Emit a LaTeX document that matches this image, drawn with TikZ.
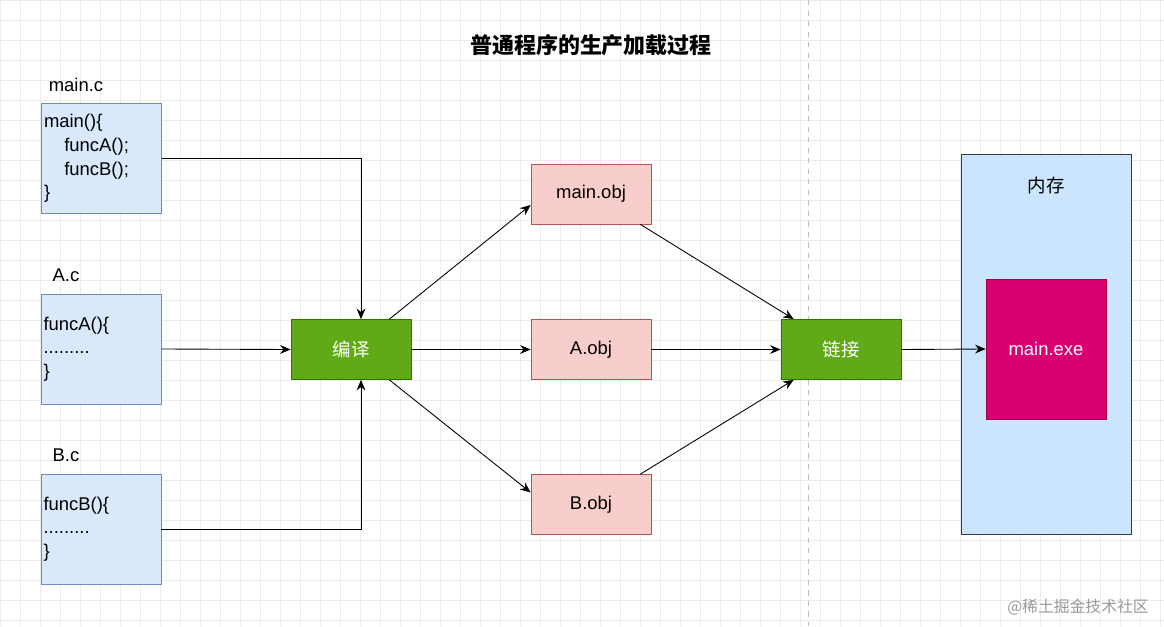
\documentclass[tikz,border=0pt]{standalone}
\usepackage{fontspec}
\setmainfont{Liberation Sans}
\newfontfamily\cjk{Noto Sans CJK SC}
\usetikzlibrary{arrows.meta}
\definecolor{bfill}{HTML}{DAE8FC}\definecolor{bline}{HTML}{6C8EBF}
\definecolor{gfill}{HTML}{60A917}\definecolor{gline}{HTML}{2D7600}
\definecolor{rfill}{HTML}{F8CECC}\definecolor{rline}{HTML}{B85450}
\definecolor{mfill}{HTML}{CCE5FF}\definecolor{mline}{HTML}{36393D}
\definecolor{pfill}{HTML}{D80073}\definecolor{pline}{HTML}{A50040}
\begin{document}
\begin{tikzpicture}[x=0.02cm,y=-0.02cm,
 src/.style={draw=bline,fill=bfill,minimum width=2.4cm,minimum height=2.2cm,inner sep=1pt,font=\fontsize{10.5}{13.5}\selectfont,align=left},
 proc/.style={draw=gline,fill=gfill,minimum width=2.4cm,minimum height=1.2cm,text=white,font=\cjk\fontsize{10.5}{12}\selectfont},
 obj/.style={draw=rline,fill=rfill,minimum width=2.4cm,minimum height=1.2cm,font=\fontsize{10.5}{12}\selectfont},
 lbl/.style={font=\fontsize{10.5}{12}\selectfont},
 arr/.style={-{Stealth[length=6pt,width=5pt]},line width=0.5pt}]
\path[use as bounding box] (0,0) rectangle (1164,626);
\foreach \i in {0,20,...,1160} \draw[black!8,line width=0.4pt] (\i,0) -- (\i,626);
\foreach \j in {0,20,...,620} \draw[black!8,line width=0.4pt] (0,\j) -- (1164,\j);
\draw[black!25,dashed] (808,0) -- (808,626);
\node[font=\cjk\bfseries\fontsize{12.5}{14}\selectfont] (title) at (591,45) {普通程序的生产加载过程};
\node[lbl] (lmain) at (76,85) {main.c};
\node[lbl] (la) at (66,275) {A.c};
\node[lbl] (lb) at (66,455) {B.c};
\node[src,text width=2.3cm] (mainc) at (101.5,158.5) {main()\{\\\hspace*{1.1em}funcA();\\\hspace*{1.1em}funcB();\\\}};
\node[src,text width=2.3cm] (ac) at (101,349) {funcA()\{\\.........\\\}};
\node[src,text width=2.3cm] (bc) at (101,529) {funcB()\{\\.........\\\}};
\node[proc] (cc) at (351,349.5) {编译};
\node[proc] (ld) at (841,349.5) {链接};
\node[obj] (mo) at (591,194) {main.obj};
\node[obj] (ao) at (591,349.5) {A.obj};
\node[obj] (bo) at (591,504.5) {B.obj};
\node[draw=mline,fill=mfill,minimum width=3.4cm,minimum height=7.6cm] (mem) at (1046,344) {};
\node[font=\cjk\fontsize{10.5}{12}\selectfont] (memt) at (1046,186) {内存};
\node[draw=pline,fill=pfill,minimum width=2.4cm,minimum height=2.8cm,text=white,font=\fontsize{10.5}{12}\selectfont] (exe) at (1046,349) {main.exe};
\coordinate (ctop) at ([xshift=10*0.02cm]cc.north);
\coordinate (cbot) at ([xshift=10*0.02cm]cc.south);
\draw[arr] (mainc.east) -| (ctop);
\draw[arr] (ac.east) -- (cc.west);
\draw[arr] (bc.east) -| (cbot);
\draw[arr] ([xshift=-22*0.02cm]cc.north east) -- ([yshift=-11*0.02cm]mo.west);
\draw[arr] (cc.east) -- (ao.west);
\draw[arr] ([xshift=-22*0.02cm]cc.south east) -- ([yshift=12*0.02cm]bo.west);
\draw[arr] ([xshift=-11*0.02cm]mo.south east) -- ([xshift=13*0.02cm]ld.north west);
\draw[arr] (ao.east) -- (ld.west);
\draw[arr] ([xshift=-11*0.02cm]bo.north east) -- ([xshift=13*0.02cm]ld.south west);
\draw[arr] (ld.east) -- (exe.west);
\node[text=black!40,font=\cjk\fontsize{9}{10}\selectfont] (wm) at (1078,607) {@稀土掘金技术社区};
\end{tikzpicture}
\end{document}
